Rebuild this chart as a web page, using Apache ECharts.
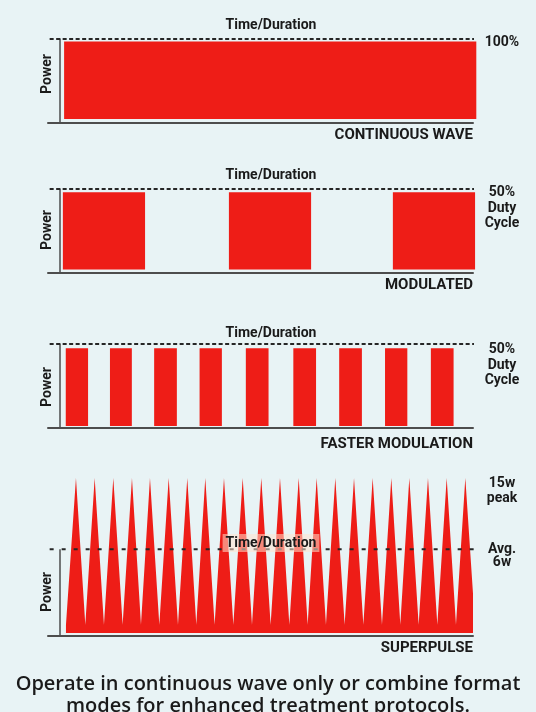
<!DOCTYPE html>
<html><head><meta charset="utf-8">
<script src="https://cdn.jsdelivr.net/npm/echarts@6/dist/echarts.min.js"></script>
<style>html,body{margin:0;padding:0;background:#e8f3f5}#c{width:536px;height:712px}</style>
</head><body><div id="c"></div>
<script>
// ---- texts ----
const panelTitles = ['CONTINUOUS WAVE', 'MODULATED', 'FASTER MODULATION', 'SUPERPULSE'];
const timeLabel = 'Time/Duration';
const powerLabel = 'Power';
const levelLabels = ['100%', '50%\nDuty\nCycle', '50%\nDuty\nCycle'];
const peakLabel = '15w\npeak';
const avgLabel = 'Avg.\n6w';
const captionLines = ['Operate in continuous wave only or combine format', 'modes for enhanced treatment protocols.'];

// ---- data (time in % of duration, power as fraction of max) ----
const cwPulses = [[1.0, 100.8]];
const modulatedPulses = [[0.7, 20.6], [40.9, 60.8], [80.6, 100.5]];
const fastPulses = [[1.4, 6.8], [12.1, 17.4], [22.8, 28.3], [33.8, 39.2], [45.0, 50.5], [56.5, 62.0], [67.6, 73.1], [78.7, 84.1], [89.8, 95.3]];
const pulseLevels = [0.97, 0.96, 0.95];
const dutyLevel = 1;
const dashSpan = [-2.5, 100.5];

// superpulse (time %, watts)
const superTimes = [1.45, 3.87, 6.13, 8.40, 10.65, 12.91, 15.17, 17.43, 19.61, 21.79, 24.05, 26.32, 28.57, 30.82, 33.0, 35.18, 37.44, 39.71, 41.97, 44.24, 46.49, 48.74, 51.0, 53.27, 55.53, 57.80, 59.97, 62.15, 64.4, 66.66, 68.92, 71.19, 73.45, 75.71, 77.96, 80.22, 82.4, 84.58, 86.84, 89.10, 91.36, 93.63, 95.88, 98.14, 100.5];
const superWatts = [0.8, 15, 0.8, 15, 0.8, 15, 0.8, 15, 0.8, 15, 0.8, 15, 0.8, 15, 0.8, 15, 0.8, 15, 0.8, 15, 0.8, 15, 0.8, 15, 0.8, 15, 0.8, 15, 0.8, 15, 0.8, 15, 0.8, 15, 0.8, 15, 0.8, 15, 0.8, 15, 0.8, 15, 0.8, 15, 0.8];
const superPeak = 15;
const superAvgLine = 8.1;

// ---- style ----
const RED = '#ee1d17';
const INK = '#1a1a1a';
const AXIS = '#4d4d4d';
const FONT = 'Roboto';
const panelTops = [39, 189, 344, 478];
const panelHeights = [84, 84, 84, 158];
const bottomGaps = [4, 3.5, 2];

const grids = panelTops.map((t, i) => ({ left: 48, right: 63, top: t, height: panelHeights[i] }));
const xAxes = grids.map((g, i) => ({
  type: 'value', gridIndex: i, min: -2.9, max: 100,
  axisLine: { show: true, onZero: false, lineStyle: { color: AXIS, width: 2 } },
  axisTick: { show: false }, axisLabel: { show: false }, splitLine: { show: false }
}));
const yAxes = grids.map((g, i) => ({
  type: 'value', gridIndex: i,
  min: i < 3 ? 0 : -0.3, max: i < 3 ? dutyLevel : superPeak,
  axisLine: { show: i < 3, onZero: true, lineStyle: { color: AXIS, width: 1.5 } },
  axisTick: { show: false }, axisLabel: { show: false }, splitLine: { show: false }
}));

function pulseSeries(pulses, level, idx) {
  return {
    type: 'custom', xAxisIndex: idx, yAxisIndex: idx, silent: true, z: 2,
    data: pulses.map(p => [p[0], p[1], level]),
    encode: { x: [0, 1], y: 2 },
    renderItem: function (params, api) {
      const s = api.coord([api.value(0), api.value(2)]);
      const e = api.coord([api.value(1), 0]);
      return { type: 'rect', shape: { x: s[0], y: s[1], width: e[0] - s[0], height: e[1] - s[1] - bottomGaps[idx] }, style: { fill: RED } };
    }
  };
}
function dashSeries(idx, level, dash) {
  return {
    type: 'line', xAxisIndex: idx, yAxisIndex: idx, silent: true, symbol: 'none', z: 5,
    data: [[dashSpan[0], level], [dashSpan[1], level]],
    lineStyle: { color: '#262626', width: 2, type: dash }
  };
}

const series = [
  pulseSeries(cwPulses, pulseLevels[0], 0),
  pulseSeries(modulatedPulses, pulseLevels[1], 1),
  pulseSeries(fastPulses, pulseLevels[2], 2),
  {
    type: 'line', xAxisIndex: 3, yAxisIndex: 3, silent: true, symbol: 'none', z: 2,
    data: superTimes.map((t, i) => [t, superWatts[i]]),
    lineStyle: { width: 0 }, areaStyle: { color: RED, opacity: 1, origin: 0 },
    markLine: {
      silent: true, symbol: 'none', label: { show: false }, animation: false,
      lineStyle: { color: AXIS, width: 1.5, type: 'solid' },
      data: [[{ coord: [0, -0.3] }, { coord: [0, superAvgLine] }]]
    }
  },
  dashSeries(0, dutyLevel, [4, 2.5]),
  dashSeries(1, dutyLevel, [4, 2.5]),
  dashSeries(2, dutyLevel, [4, 2.5]),
  dashSeries(3, superAvgLine, [4, 8])
];

const graphics = [];
const timeY = [25, 175, 333, 543];
const powerY = [74, 230, 387, 592];
const titleY = [135, 285, 444, 648];
const levelY = [42, 208, 365];
for (let i = 0; i < 4; i++) {
  graphics.push({ type: 'text', x: 271, y: timeY[i], z: 10,
    style: { text: timeLabel, fill: INK, font: 'bold 14px ' + FONT, textAlign: 'center', textVerticalAlign: 'middle',
      backgroundColor: i === 3 ? 'rgba(255,225,205,0.55)' : null, padding: i === 3 ? [2, 3] : 0 } });
  graphics.push({ type: 'text', x: 47, y: powerY[i], rotation: Math.PI / 2, z: 10,
    style: { text: powerLabel, fill: INK, font: 'bold 14px ' + FONT, textAlign: 'center', textVerticalAlign: 'middle' } });
  graphics.push({ type: 'text', x: 473, y: titleY[i], z: 10,
    style: { text: panelTitles[i], fill: INK, font: 'bold 15px ' + FONT, textAlign: 'right', textVerticalAlign: 'middle' } });
}
for (let i = 0; i < 3; i++) {
  graphics.push({ type: 'text', x: 502, y: levelY[i], z: 10,
    style: { text: levelLabels[i], fill: INK, font: 'bold 14px ' + FONT, lineHeight: 15.5, textAlign: 'center', textVerticalAlign: 'middle' } });
}
graphics.push({ type: 'text', x: 502, y: 491, z: 10,
  style: { text: peakLabel, fill: INK, font: 'bold 14px ' + FONT, lineHeight: 14.5, textAlign: 'center', textVerticalAlign: 'middle' } });
graphics.push({ type: 'text', x: 502, y: 556, z: 10,
  style: { text: avgLabel, fill: INK, font: 'bold 14px ' + FONT, lineHeight: 13.5, textAlign: 'center', textVerticalAlign: 'middle' } });
graphics.push({ type: 'text', x: 268, y: 684, z: 10,
  style: { text: captionLines[0], fill: INK, font: '600 20px "Open Sans"', textAlign: 'center', textVerticalAlign: 'middle' } });
graphics.push({ type: 'text', x: 268, y: 706, z: 10,
  style: { text: captionLines[1], fill: INK, font: '600 20px "Open Sans"', textAlign: 'center', textVerticalAlign: 'middle' } });

const chart = echarts.init(document.getElementById('c'), null, { renderer: 'canvas' });
chart.setOption({
  backgroundColor: '#e8f3f5',
  animation: false,
  grid: grids, xAxis: xAxes, yAxis: yAxes, series: series, graphic: graphics
});
</script></body></html>
